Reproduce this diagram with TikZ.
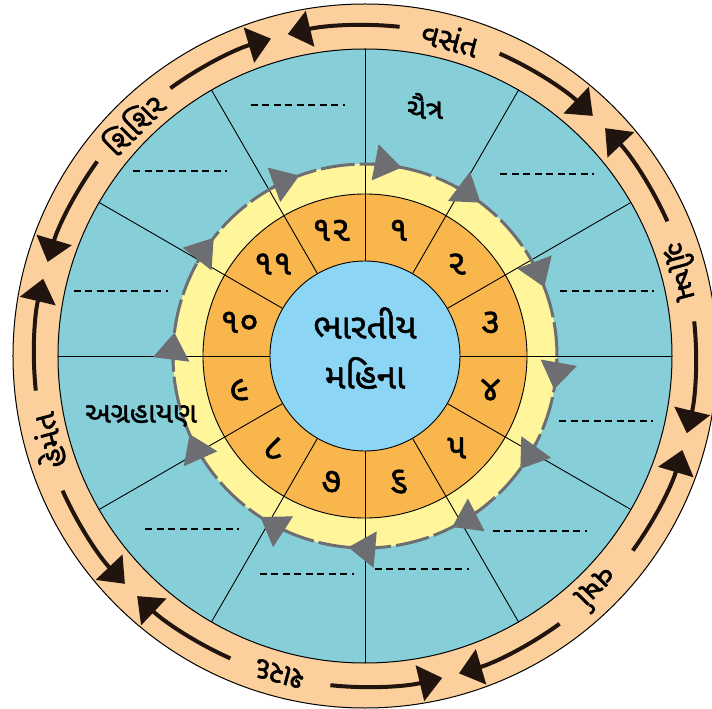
\documentclass[tikz,border=0pt]{standalone}
\usepackage{fontspec}
\newfontfamily\gujfont[Script=Gujarati,FakeBold=1.4]{Noto Sans Gujarati UI}
\usetikzlibrary{arrows.meta}
\definecolor{SeasonPeach}{HTML}{FCD09D}
\definecolor{MonthTeal}{HTML}{86CFD8}
\definecolor{PathYellow}{HTML}{FFF59B}
\definecolor{NumberOrange}{HTML}{F8B64C}
\definecolor{CoreBlue}{HTML}{8DD5F4}
\definecolor{FlowGrey}{HTML}{6D6E71}
\definecolor{FlowInk}{HTML}{21130D}

\begin{document}
\begin{tikzpicture}[x=1pt,y=1pt,font=\gujfont,
  season/.style={font=\gujfont\fontsize{31}{33}\selectfont},
  month/.style={font=\gujfont\fontsize{29}{31}\selectfont},
  number/.style={font=\gujfont\fontsize{35}{37}\selectfont},
  blank/.style={line width=2pt,dash pattern=on 7pt off 4.5pt},
  inkflow/.style={FlowInk,line width=4pt,-{Triangle[length=23pt,width=36pt]}},
  greyflow/.style={FlowGrey,line width=3pt,-{Triangle[length=27pt,width=36pt]}}]
  \useasboundingbox (-365,-353) rectangle (347,356);
  \filldraw[fill=SeasonPeach,line width=1pt] (0,0) circle (352);
  \filldraw[fill=MonthTeal,line width=1pt] (0,0) circle (307);
  \fill[PathYellow] (0,0) circle (192);
  \filldraw[fill=NumberOrange,line width=0.9pt] (0,0) circle (162);
  \foreach \a in {0,30,...,330}
    \draw[line width=0.9pt] (\a:95) -- (\a:307);
  \filldraw[fill=CoreBlue,line width=0.9pt] (0,0) circle (95);
  \node[font=\gujfont\fontsize{35}{37}\selectfont] (title1) at (0,33) {ભારતીય};
  \node[font=\gujfont\fontsize{35}{37}\selectfont] (title2) at (0,-17) {મહિના};
  % month numbers
  \foreach \n/\d [count=\k] in {1/૧,2/૨,3/૩,4/૪,5/૫,6/૬,7/૭,8/૮,9/૯,10/૧૦,11/૧૧,12/૧૨}
    \node[number] (num\n) at ({105-30*\k}:130) {\d};
  % grey path round the numbers
  \draw[FlowGrey,line width=3pt,dash pattern=on 34pt off 5pt] (0,0) circle (192);
  \foreach \t in {79,53,21,-10,-36,-63,-95,-123,-156,173,142,110}
    \draw[greyflow] (\t+9:192) arc[start angle=\t+9,end angle=\t,radius=192];
  % month names and blanks
  \node[month] (chaitra) at (60,250) {ચૈત્ર};
  \node[month] (agrahayan) at (-224,-60) {અગ્રહાયણ};
  \foreach \a/\r in {105/260,45/258,15/251,-15/250,-45/247,-75/220,-105/226,-135/244,165/253,135/261}
    \draw[blank] (\a:\r) ++(-47,0) -- ++(94,0);
  % seasons with arrows
  \foreach \c/\s in {75/વસંત,15/ગ્રીષ્મ,-45/વર્ષા,-105/શરદ,-165/હેમંત,-225/શિશિર}{
    \node[season,rotate=\c-90] (season\c) at (\c:329) {\s};
    \draw[inkflow] (\c-9:331) arc[start angle=\c-9,end angle=\c-28.5,radius=331];
    \draw[inkflow] (\c+9:331) arc[start angle=\c+9,end angle=\c+28.5,radius=331];
  }
\end{tikzpicture}
\end{document}
